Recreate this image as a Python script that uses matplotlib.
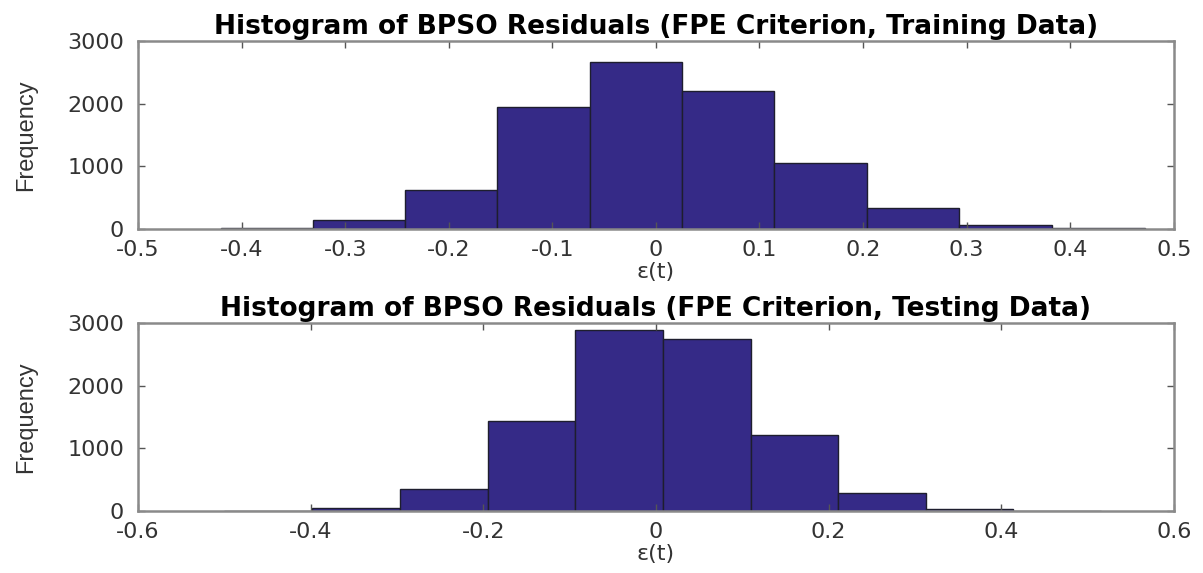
import numpy as np
import matplotlib
matplotlib.use("Agg")
import matplotlib.pyplot as plt

# Training residuals: 10 bins, edges and counts.
train_edges = [-0.420, -0.331, -0.242, -0.153, -0.064, 0.025,
               0.114, 0.204, 0.293, 0.382, 0.472]
train_counts = [20, 144, 622, 1941, 2665, 2207, 1058, 330, 58, 10]

# Testing residuals.
test_edges = [-0.500, -0.398, -0.297, -0.195, -0.094, 0.008,
              0.110, 0.211, 0.313, 0.414, 0.516]
test_counts = [8, 40, 351, 1431, 2888, 2739, 1213, 287, 32, 3]

titles = ["Histogram of BPSO Residuals (FPE Criterion, Training Data)",
          "Histogram of BPSO Residuals (FPE Criterion, Testing Data)"]
xlims = [(-0.5, 0.5), (-0.6, 0.6)]
xticks = [[-0.5, -0.4, -0.3, -0.2, -0.1, 0, 0.1, 0.2, 0.3, 0.4, 0.5],
          [-0.6, -0.4, -0.2, 0, 0.2, 0.4, 0.6]]
yticks = [0, 1000, 2000, 3000]

BAR = "#352a87"
TXT = "#333333"
plt.rcParams["font.family"] = ["DejaVu Sans"]

fig = plt.figure(figsize=(12.03, 5.73), dpi=100)
axes = [fig.add_axes([0.1147, 0.6003, 0.861, 0.328]),
        fig.add_axes([0.1147, 0.1082, 0.861, 0.328])]

data = [(train_edges, train_counts), (test_edges, test_counts)]
for ax, (edges, counts), title, xl, xt in zip(axes, data, titles, xlims, xticks):
    edges = np.asarray(edges)
    ax.bar(edges[:-1], counts, width=np.diff(edges), align="edge",
           color=BAR, edgecolor="#1e1e2e", linewidth=1.0)
    ax.set_xlim(*xl)
    ax.set_ylim(0, 3000)
    ax.set_xticks(xt)
    ax.set_xticklabels([f"{v:g}" for v in xt])
    ax.set_yticks(yticks)
    ax.tick_params(direction="in", length=5, width=1, colors="#555555",
                   labelcolor=TXT, labelsize=16, top=True, right=True)
    ax.tick_params(axis="x", pad=8)
    ax.tick_params(axis="y", pad=10)
    for s in ax.spines.values():
        s.set_color("#8a8a8a")
        s.set_linewidth(1.8)
    ax.set_title(title, fontsize=19, fontweight="bold", pad=5)
    ax.set_ylabel("Frequency", fontsize=17, color=TXT,
                  family="Liberation Sans")
    ax.yaxis.set_label_coords(-0.0975, 0.5)
    ax.set_xlabel("ε(t)", fontsize=16, color=TXT, labelpad=1)

fig.savefig("out.png", dpi=100)
